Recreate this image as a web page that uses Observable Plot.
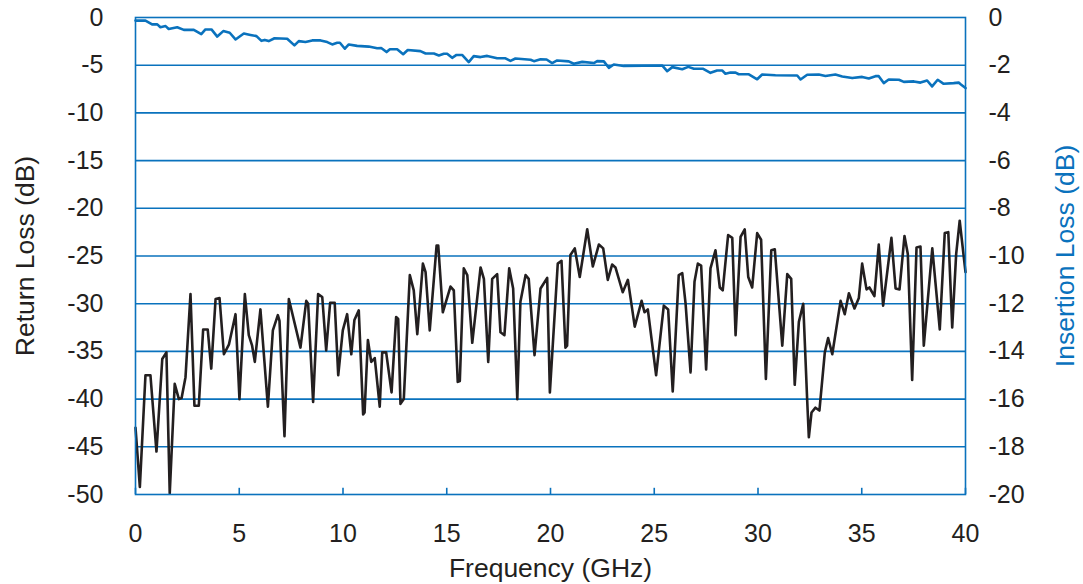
<!DOCTYPE html>
<html>
<head>
<meta charset="utf-8">
<script src="https://cdn.jsdelivr.net/npm/d3@7"></script>
<script src="https://cdn.jsdelivr.net/npm/@observablehq/plot@0.6"></script>
<style>
  html, body { margin: 0; padding: 0; background: #fff; }
  #chart { width: 1083px; height: 584px; }
</style>
</head>
<body>
<div id="chart"></div>
<script>
// Return loss (black, left axis, dB) — frequency in GHz
const rlFreq = [0.0,0.21,0.48,0.72,1.01,1.29,1.49,1.65,1.89,2.09,2.22,2.41,2.65,2.84,3.05,3.26,3.48,3.65,3.86,4.05,4.26,4.50,4.82,5.01,5.27,5.46,5.62,5.75,6.02,6.38,6.62,6.86,6.94,7.18,7.39,7.95,8.23,8.32,8.56,8.80,9.00,9.19,9.38,9.60,9.77,9.99,10.20,10.40,10.55,10.76,10.97,11.04,11.20,11.36,11.53,11.77,11.89,12.08,12.34,12.56,12.66,12.77,12.93,13.22,13.41,13.58,13.85,13.98,14.18,14.51,14.59,14.81,15.18,15.34,15.53,15.63,15.82,15.99,16.23,16.63,16.79,17.00,17.19,17.43,17.59,17.78,18.01,18.20,18.40,18.55,18.80,18.95,19.23,19.52,19.84,19.97,20.35,20.53,20.72,20.80,20.96,21.17,21.41,21.77,22.04,22.33,22.54,22.76,22.97,23.13,23.48,23.73,24.06,24.39,24.53,24.69,25.09,25.46,25.67,25.89,26.18,26.35,26.51,26.75,26.94,27.10,27.26,27.50,27.71,27.95,28.16,28.30,28.56,28.76,28.92,29.16,29.36,29.53,29.72,29.96,30.15,30.38,30.64,30.81,31.17,31.41,31.60,31.77,31.97,32.18,32.37,32.45,32.58,32.77,32.96,33.22,33.38,33.58,33.98,34.18,34.38,34.65,34.86,35.02,35.23,35.37,35.61,35.82,36.03,36.43,36.63,36.82,37.06,37.22,37.43,37.64,37.83,37.99,38.40,38.76,39.00,39.17,39.36,39.55,39.72,40.0];
const rlDb = [-43.0,-49.2,-37.5,-37.5,-45.5,-35.8,-35.1,-49.9,-38.4,-40.0,-39.9,-37.7,-29.0,-40.7,-40.7,-32.7,-32.7,-36.8,-29.5,-29.4,-35.3,-34.3,-31.1,-40.0,-29.0,-33.3,-34.4,-36.1,-30.6,-40.8,-32.8,-31.2,-31.8,-43.9,-29.5,-34.6,-29.7,-30.0,-40.3,-29.0,-29.3,-34.9,-29.9,-29.9,-37.5,-32.8,-31.1,-35.3,-31.7,-30.7,-41.6,-41.4,-33.8,-36.1,-35.7,-40.8,-35.1,-35.1,-39.3,-31.4,-31.6,-40.5,-40.0,-27.0,-28.6,-33.2,-25.8,-26.7,-32.8,-23.9,-23.9,-30.9,-28.2,-28.6,-38.2,-38.1,-26.3,-27.0,-34.1,-26.2,-27.4,-36.1,-27.4,-26.9,-33.0,-33.3,-26.3,-28.4,-40.0,-29.8,-27.0,-27.4,-35.4,-28.4,-27.3,-39.3,-25.8,-25.5,-34.6,-34.4,-24.9,-24.2,-27.2,-22.2,-26.1,-23.8,-24.2,-27.5,-25.9,-26.2,-28.8,-27.5,-32.4,-29.7,-30.9,-30.6,-37.5,-30.2,-30.6,-39.2,-27.0,-26.8,-30.0,-37.2,-27.7,-25.8,-26.0,-36.9,-26.3,-24.4,-28.3,-28.6,-22.8,-23.1,-33.3,-23.0,-22.2,-27.2,-28.3,-22.6,-23.3,-37.9,-24.4,-24.3,-34.4,-26.9,-27.4,-38.5,-31.9,-30.0,-40.1,-44.0,-41.4,-40.9,-41.2,-35.1,-33.6,-35.3,-29.7,-31.1,-28.9,-30.5,-29.4,-25.8,-28.5,-28.3,-29.2,-23.8,-30.2,-23.1,-28.4,-28.5,-22.9,-24.8,-38.0,-24.1,-24.0,-34.4,-24.2,-32.7,-22.6,-22.5,-32.5,-24.8,-21.3,-26.7];

// Insertion loss (blue, right axis, dB)
const ilFreq = [0.0,0.48,0.80,1.05,1.20,1.45,1.60,2.01,2.33,2.81,3.17,3.37,3.66,3.94,4.23,4.54,4.82,5.22,5.54,5.83,6.07,6.23,6.42,6.70,7.31,7.66,7.87,8.19,8.52,8.92,9.24,9.48,9.72,9.85,10.09,10.28,10.68,11.24,11.65,11.84,12.10,12.26,12.61,12.90,13.12,13.73,13.98,14.38,14.62,14.86,15.02,15.26,15.47,15.74,16.06,16.30,16.63,16.95,17.43,17.83,18.07,18.31,19.04,19.20,19.52,19.81,20.08,20.32,20.88,21.12,21.53,22.09,22.25,22.57,22.81,23.05,23.53,25.38,25.62,25.87,26.35,26.64,26.91,27.36,27.71,28.03,28.27,28.43,28.67,28.92,29.07,29.56,29.96,30.20,30.84,31.89,32.05,32.37,32.93,33.25,33.73,34.06,34.54,35.02,35.34,35.66,35.82,36.06,36.30,36.79,37.03,37.51,37.83,38.15,38.39,38.66,38.95,39.43,39.67,39.78,40.0];
const ilDb = [-0.13,-0.13,-0.29,-0.29,-0.41,-0.36,-0.48,-0.41,-0.52,-0.52,-0.70,-0.50,-0.50,-0.80,-0.57,-0.64,-0.92,-0.67,-0.73,-0.78,-0.98,-0.94,-0.99,-0.87,-0.89,-1.17,-0.99,-1.03,-0.96,-0.96,-1.03,-1.13,-1.06,-1.06,-1.31,-1.13,-1.19,-1.22,-1.29,-1.28,-1.45,-1.33,-1.33,-1.54,-1.36,-1.41,-1.51,-1.51,-1.59,-1.52,-1.52,-1.69,-1.57,-1.57,-1.87,-1.62,-1.66,-1.61,-1.71,-1.71,-1.82,-1.72,-1.77,-1.83,-1.75,-1.76,-1.91,-1.80,-1.84,-1.94,-1.86,-1.91,-1.83,-1.84,-2.11,-1.97,-2.03,-2.01,-2.25,-2.08,-2.17,-2.07,-2.15,-2.15,-2.32,-2.22,-2.22,-2.36,-2.31,-2.31,-2.38,-2.38,-2.59,-2.39,-2.42,-2.43,-2.60,-2.40,-2.39,-2.45,-2.39,-2.47,-2.54,-2.49,-2.56,-2.46,-2.46,-2.75,-2.60,-2.61,-2.70,-2.68,-2.73,-2.64,-2.89,-2.61,-2.78,-2.75,-2.73,-2.81,-2.96];

const xTicks = [0, 5, 10, 15, 20, 25, 30, 35, 40];
const leftTicks = [0, -5, -10, -15, -20, -25, -30, -35, -40, -45, -50];
const rightTicks = [0, -2, -4, -6, -8, -10, -12, -14, -16, -18, -20];

const BLUE = "#0a72bd";
const INK = "#231f20";
const FONT = "'Liberation Sans', Arial, Helvetica, sans-serif";
const FS = 25;
const TS = 26.5;
const ratio = 50 / 20; // right-axis dB mapped onto left scale

const rl = rlFreq.map((f, i) => ({f, v: rlDb[i]}));
const il = ilFreq.map((f, i) => ({f, v: ilDb[i]}));

const chart = Plot.plot({
  width: 1083,
  height: 584,
  marginLeft: 135,
  marginRight: 118,
  marginTop: 17,
  marginBottom: 90,
  style: {fontFamily: FONT, fontSize: FS + "px", color: INK, background: "#fff"},
  x: {domain: [0, 40]},
  y: {domain: [-50, 0]},
  marks: [
    Plot.ruleY(leftTicks.slice(1, -1), {stroke: BLUE, strokeWidth: 1.6}),
    Plot.ruleX(xTicks, {y1: -50, y2: -49.35, stroke: BLUE, strokeWidth: 1.6}),
    Plot.line(il, {x: "f", y: d => d.v * ratio, stroke: BLUE, strokeWidth: 2.6}),
    Plot.line(rl, {x: "f", y: "v", stroke: INK, strokeWidth: 2.6}),
    Plot.frame({stroke: BLUE, strokeWidth: 1.6}),
    Plot.axisX(xTicks, {tickSize: 0, tickPadding: 30, fontSize: FS, fill: INK, label: null, tickFormat: d => String(d)}),
    Plot.axisY(leftTicks, {anchor: "left", tickSize: 0, tickPadding: 32, fontSize: FS, fill: INK, label: null, tickFormat: d => String(d)}),
    Plot.axisY(rightTicks.map(d => d * ratio), {anchor: "right", tickSize: 0, tickPadding: 23, fontSize: FS, fill: INK, label: null, tickFormat: d => String(Math.round(d / ratio))}),
    Plot.text(["Frequency (GHz)"], {frameAnchor: "bottom", dy: 82, fontSize: TS, fill: INK}),
    Plot.text(["Return Loss (dB)"], {frameAnchor: "left", dx: -110, rotate: -90, textAnchor: "middle", fontSize: TS, fill: INK}),
    Plot.text(["Insertion Loss (dB)"], {frameAnchor: "right", dx: 100, rotate: -90, textAnchor: "middle", fontSize: TS, fill: BLUE})
  ]
});
document.getElementById("chart").appendChild(chart);
</script>
</body>
</html>
